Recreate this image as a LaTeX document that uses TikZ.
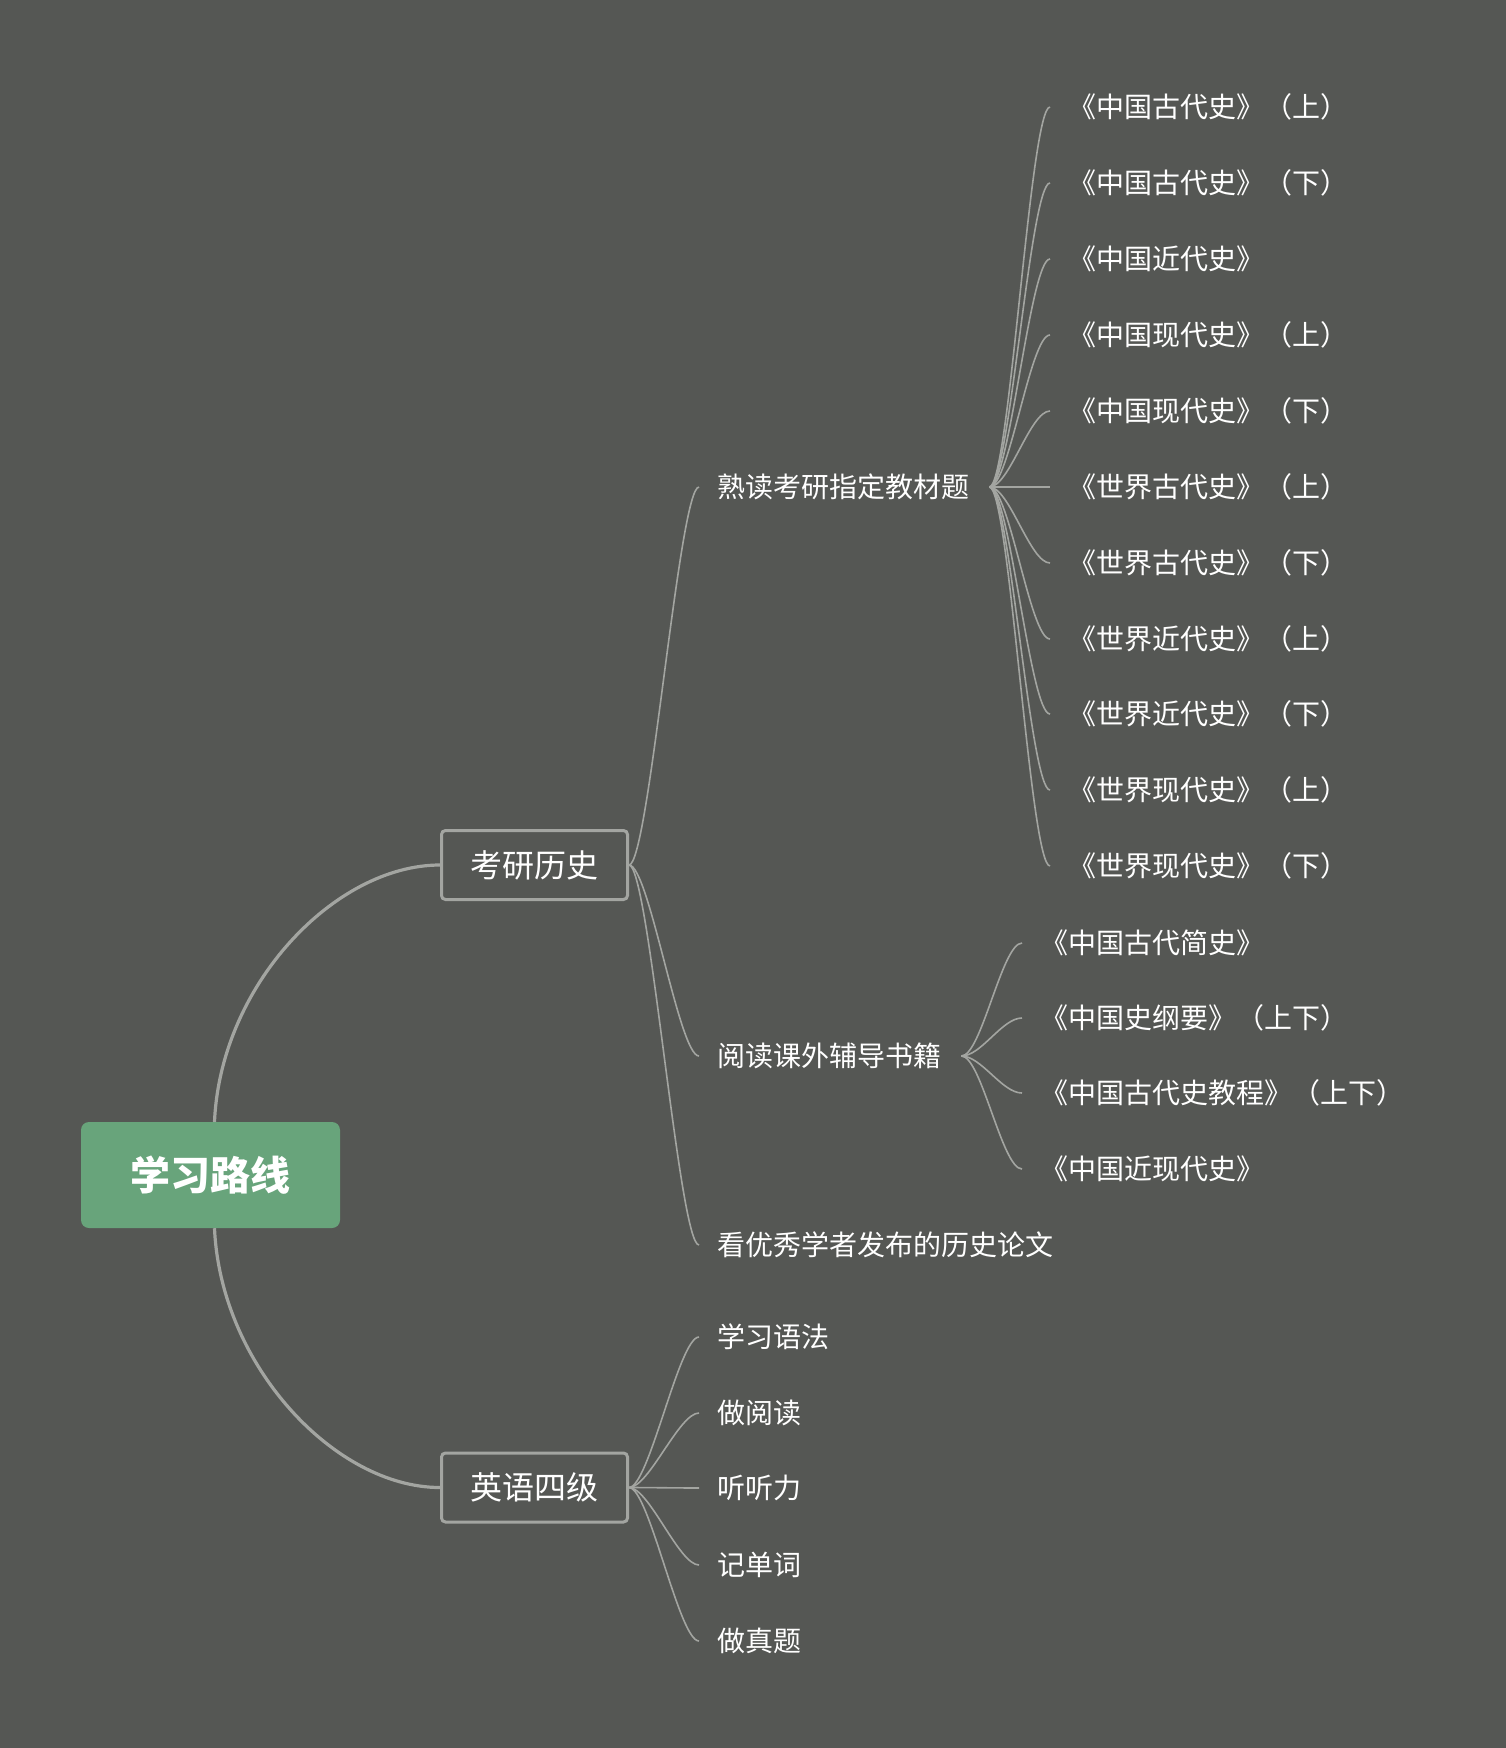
\documentclass[tikz,border=0pt]{standalone}
\usepackage{fontspec}
\setmainfont{Noto Sans CJK SC}
\usetikzlibrary{calc}
\definecolor{bg}{RGB}{85,87,84}
\definecolor{rootgreen}{RGB}{104,164,123}
\definecolor{linegray}{RGB}{163,165,161}
\definecolor{thingray}{RGB}{163,165,161}
\begin{document}
\begin{tikzpicture}[x=1pt,y=-1pt,
  leaf/.style={anchor=west, inner sep=0pt, text=white, font=\fontsize{28}{28}\selectfont, text height=23pt, text depth=2pt},
  topic/.style={draw=linegray, line width=3pt, rounded corners=4pt, minimum width=186pt, minimum height=69pt, inner sep=0pt, text=white, font=\fontsize{32}{32}\selectfont},
  rootbox/.style={fill=rootgreen, rounded corners=8pt, minimum width=259pt, minimum height=106pt, inner sep=0pt, text=white, font=\fontsize{40}{40}\selectfont\bfseries},
  mainline/.style={draw=linegray, line width=3.2pt},
  branch/.style={draw=thingray, line width=1.6pt, to path={.. controls ($(\tikztostart)+(20,0)$) and ($(\tikztotarget)+(-20,0)$) .. (\tikztotarget)}}
]
\useasboundingbox (0,0) rectangle (1506,1748);
\fill[bg] (0,0) rectangle (1506,1748);

% central and main topics
\node[rootbox] (root) at (210.5,1175) {学习路线};
\node[topic] (ky) at (534.5,865) {考研历史};
\node[topic] (yy) at (534.5,1487.5) {英语四级};

\draw[mainline] ([xshift=4pt]root.north) .. controls ([xshift=10pt,yshift=137pt]root.north) and ([xshift=-105pt]ky.west) .. (ky.west);
\draw[mainline] ([xshift=4pt]root.south) .. controls ([xshift=10pt,yshift=-137pt]root.south) and ([xshift=-105pt]yy.west) .. (yy.west);

% level 2 under 考研历史
\node[leaf] (sd) at (717,487) {熟读考研指定教材题};
\node[leaf] (yd) at (717,1056) {阅读课外辅导书籍};
\node[leaf] (kl) at (717,1245) {看优秀学者发布的历史论文};
\foreach \c in {sd,yd,kl}
  \draw[branch] (ky.east) to ([xshift=-18pt]\c.west);

% level 3 under 熟读考研指定教材题
\coordinate (sdo) at ([xshift=20pt]sd.east);
\node[leaf] (a1) at (1068,107) {《中国古代史》（上）};
\node[leaf] (a2) at (1068,183) {《中国古代史》（下）};
\node[leaf] (a3) at (1068,259) {《中国近代史》};
\node[leaf] (a4) at (1068,335) {《中国现代史》（上）};
\node[leaf] (a5) at (1068,411) {《中国现代史》（下）};
\node[leaf] (a6) at (1068,487) {《世界古代史》（上）};
\node[leaf] (a7) at (1068,563) {《世界古代史》（下）};
\node[leaf] (a8) at (1068,639) {《世界近代史》（上）};
\node[leaf] (a9) at (1068,714) {《世界近代史》（下）};
\node[leaf] (a10) at (1068,790) {《世界现代史》（上）};
\node[leaf] (a11) at (1068,866) {《世界现代史》（下）};
\foreach \c in {a1,a2,a3,a4,a5,a6,a7,a8,a9,a10,a11}
  \draw[branch] (sdo) to ([xshift=-18pt]\c.west);

% level 3 under 阅读课外辅导书籍
\coordinate (ydo) at ([xshift=20pt]yd.east);
\node[leaf] (b1) at (1040,943) {《中国古代简史》};
\node[leaf] (b2) at (1040,1018) {《中国史纲要》（上下）};
\node[leaf] (b3) at (1040,1093) {《中国古代史教程》（上下）};
\node[leaf] (b4) at (1040,1169) {《中国近现代史》};
\foreach \c in {b1,b2,b3,b4}
  \draw[branch] (ydo) to ([xshift=-18pt]\c.west);

% level 2 under 英语四级
\node[leaf] (e1) at (717,1337) {学习语法};
\node[leaf] (e2) at (717,1413) {做阅读};
\node[leaf] (e3) at (717,1488) {听听力};
\node[leaf] (e4) at (717,1565) {记单词};
\node[leaf] (e5) at (717,1641) {做真题};
\foreach \c in {e1,e2,e3,e4,e5}
  \draw[branch] (yy.east) to ([xshift=-18pt]\c.west);
\end{tikzpicture}
\end{document}
